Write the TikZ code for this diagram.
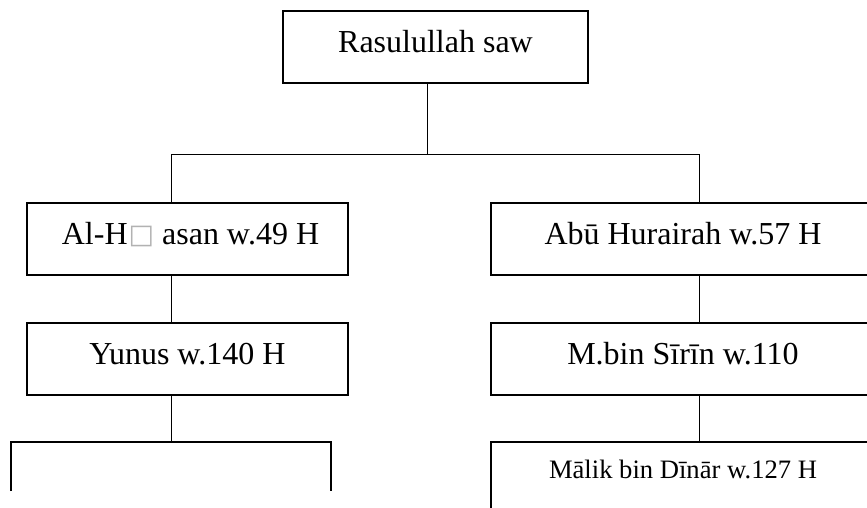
\documentclass[tikz,border=0pt]{standalone}
\usepackage{fontspec}
\setmainfont{Liberation Serif}
\newfontfamily\symfont{DejaVu Sans}
\begin{document}
\begin{tikzpicture}[x=1pt,y=-1pt,
  box/.style={draw=black,line width=1.4pt,rectangle,inner sep=0pt,
    text height=20pt,text depth=10pt,font=\fontsize{32}{38}\selectfont},
  conn/.style={draw=black,line width=1pt}]
\useasboundingbox (0,0) rectangle (867,507);
\clip (0,0) rectangle (867,507);
\fill[white] (0,0) rectangle (867,507);
% nodes
\node[box,minimum width=305pt,minimum height=72pt] (top) at (435.5,47) {Rasulullah saw};
\node[box,minimum width=321pt,minimum height=72pt] (alhasan) at (187.5,239)
  {\hspace*{6pt}Al-H\kern1pt\raisebox{1pt}{\symfont\color{black!30}\fontsize{27}{30}\selectfont□}\ asan w.49 H};
\node[box,minimum width=321pt,minimum height=72pt] (yunus) at (187.5,359) {Yunus w.140 H};
\node[box,minimum width=384pt,minimum height=72pt] (abu) at (683,239) {Abū Hurairah w.57 H};
\node[box,minimum width=384pt,minimum height=72pt] (sirin) at (683,359) {M.bin Sīrīn w.110};
\node[box,minimum width=384pt,minimum height=72pt,text height=18pt,text depth=18pt,
  font=\fontsize{26.6}{32}\selectfont] (malik) at (683,478) {Mālik bin Dīnār w.127 H};
% helper coordinates
\coordinate (j1) at (427,0);
\coordinate (lx) at (171,0);
\coordinate (rx) at (699,0);
\coordinate (bus1) at (0,154);
\coordinate (bus2) at (0,442);
\coordinate (bl) at (11,491);
\coordinate (br) at (331,491);
% connectors
\draw[conn] (top.south -| j1) -- (bus1 -| j1);
\draw[conn] (alhasan.north -| lx) -- (bus1 -| lx) -- (bus1 -| rx) -- (abu.north -| rx);
\draw[conn] (alhasan.south -| lx) -- (yunus.north -| lx);
\draw[conn] (abu.south -| rx) -- (sirin.north -| rx);
\draw[conn] (sirin.south -| rx) -- (malik.north -| rx);
\draw[conn] (yunus.south -| lx) -- (bus2 -| lx);
\draw[line width=1.4pt] (bl) -- (bl |- bus2) -- (br |- bus2) -- (br);
\end{tikzpicture}
\end{document}
